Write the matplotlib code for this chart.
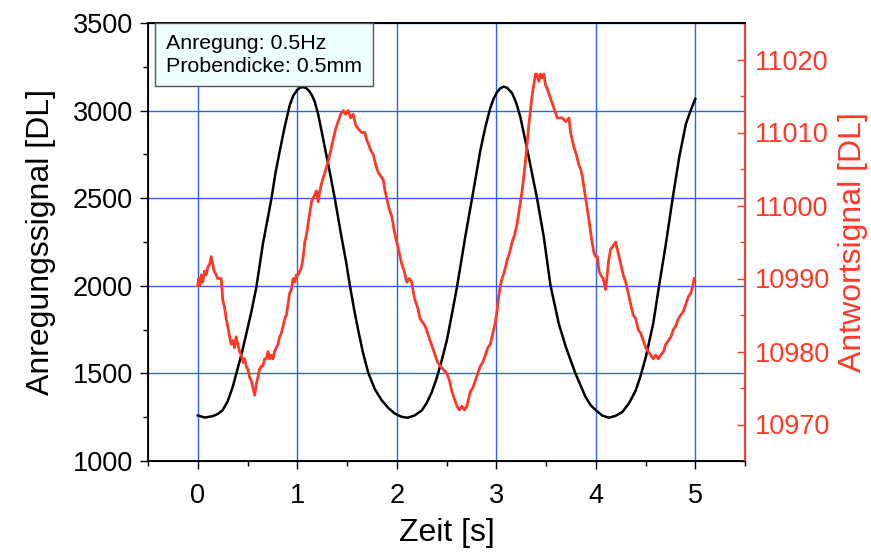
import matplotlib
matplotlib.use("Agg")
import matplotlib.pyplot as plt
from matplotlib.ticker import MultipleLocator

plt.rcParams['font.family'] = ['Liberation Sans', 'DejaVu Sans']

# Anregungssignal (schwarz)
t_anr = [0.00, 0.07, 0.15, 0.20, 0.25, 0.30, 0.35, 0.387, 0.44, 0.488,
         0.54, 0.589, 0.655, 0.70, 0.74, 0.78, 0.825, 0.875, 0.924, 0.96,
         1.00, 1.03, 1.06, 1.09, 1.12, 1.15, 1.176, 1.21, 1.277, 1.33,
         1.378, 1.445, 1.49, 1.529, 1.57, 1.613, 1.66, 1.714, 1.78, 1.849,
         1.92, 1.983, 2.05, 2.111, 2.18, 2.252, 2.30, 2.35, 2.40, 2.45,
         2.504, 2.555, 2.605, 2.645, 2.688, 2.756, 2.80, 2.84, 2.89, 2.94,
         2.975, 3.008, 3.04, 3.075, 3.11, 3.159, 3.20, 3.243, 3.327, 3.411,
         3.478, 3.545, 3.629, 3.70, 3.797, 3.898, 3.95, 4.006, 4.07, 4.133,
         4.20, 4.268, 4.335, 4.402, 4.45, 4.503, 4.577, 4.637, 4.705, 4.772,
         4.839, 4.906, 4.96, 5.00]
v_anr = [1260, 1248, 1256, 1268, 1290, 1340, 1420, 1498, 1610, 1726,
         1855, 1992, 2240, 2375, 2496, 2640, 2772, 2910, 3030, 3085,
         3118, 3131, 3134, 3128, 3112, 3085, 3050, 2980, 2791, 2640,
         2496, 2278, 2140, 2002, 1870, 1745, 1620, 1502, 1410, 1346,
         1300, 1270, 1252, 1247, 1260, 1289, 1330, 1390, 1470, 1570,
         1690, 1840, 1992, 2130, 2278, 2496, 2640, 2772, 2905, 3015,
         3070, 3105, 3127, 3137, 3130, 3100, 3045, 2962, 2734, 2496,
         2278, 2002, 1783, 1650, 1498, 1365, 1318, 1287, 1258, 1247,
         1258, 1280, 1330, 1403, 1485, 1593, 1783, 2002, 2240, 2496,
         2734, 2924, 3010, 3067]

# Antwortsignal (rot)
t_ant = [0.000, 0.010, 0.020, 0.035, 0.050, 0.068, 0.085, 0.100, 0.120, 0.135,
         0.150, 0.165, 0.185, 0.200, 0.236, 0.252, 0.270, 0.286, 0.300, 0.320,
         0.335, 0.353, 0.370, 0.385, 0.403, 0.420, 0.437, 0.455, 0.470, 0.488,
         0.505, 0.520, 0.538, 0.555, 0.572, 0.588, 0.605, 0.620, 0.639, 0.655,
         0.672, 0.690, 0.706, 0.722, 0.740, 0.756, 0.772, 0.790, 0.806, 0.823,
         0.840, 0.857, 0.875, 0.891, 0.908, 0.924, 0.941, 0.958, 0.975, 0.991,
         1.008, 1.025, 1.042, 1.060, 1.076, 1.093, 1.109, 1.126, 1.143, 1.160,
         1.176, 1.193, 1.210, 1.227, 1.244, 1.277, 1.310, 1.335, 1.361, 1.386,
         1.411, 1.436, 1.462, 1.487, 1.512, 1.537, 1.562, 1.588, 1.613, 1.646,
         1.680, 1.697, 1.714, 1.740, 1.764, 1.790, 1.815, 1.840, 1.865, 1.882,
         1.899, 1.925, 1.950, 1.975, 2.000, 2.025, 2.050, 2.075, 2.101, 2.126,
         2.151, 2.168, 2.185, 2.210, 2.235, 2.260, 2.285, 2.310, 2.336, 2.360,
         2.386, 2.411, 2.436, 2.470, 2.504, 2.530, 2.554, 2.580, 2.605, 2.630,
         2.655, 2.680, 2.705, 2.722, 2.739, 2.764, 2.789, 2.815, 2.840, 2.865,
         2.890, 2.915, 2.940, 2.965, 2.991, 3.008, 3.024, 3.041, 3.058, 3.083,
         3.109, 3.134, 3.159, 3.185, 3.210, 3.227, 3.243, 3.260, 3.276, 3.293,
         3.310, 3.327, 3.344, 3.360, 3.377, 3.394, 3.411, 3.428, 3.445, 3.462,
         3.479, 3.495, 3.512, 3.537, 3.562, 3.588, 3.613, 3.638, 3.663, 3.697,
         3.730, 3.747, 3.764, 3.780, 3.805, 3.831, 3.848, 3.865, 3.882, 3.898,
         3.915, 3.932, 3.957, 3.982, 4.000, 4.016, 4.033, 4.049, 4.075, 4.090,
         4.100, 4.115, 4.130, 4.150, 4.175, 4.200, 4.225, 4.251, 4.276, 4.301,
         4.326, 4.351, 4.376, 4.402, 4.427, 4.452, 4.478, 4.503, 4.528, 4.553,
         4.578, 4.603, 4.628, 4.654, 4.680, 4.704, 4.730, 4.755, 4.780, 4.805,
         4.830, 4.855, 4.880, 4.906, 4.930, 4.956, 4.975, 4.990]
r_ant = [10989, 10990, 10989, 10990.5, 10989.5, 10991, 10990.5, 10991.5, 10992, 10993,
         10992, 10991, 10990.5, 10990, 10990, 10987, 10986, 10984.5, 10983.5, 10982,
         10981, 10981.5, 10980.5, 10982, 10981, 10980, 10979.5, 10978.5, 10979, 10978,
         10977.5, 10976.5, 10976, 10975, 10974, 10975.5, 10976.5, 10977.5, 10978, 10978,
         10979, 10979, 10980, 10979, 10979.5, 10979, 10980, 10980.5, 10981, 10982,
         10982.5, 10983.5, 10984.5, 10985, 10986.5, 10988, 10988.5, 10990, 10989.5, 10990.5,
         10990.5, 10991, 10991.5, 10993, 10995, 10996, 10997.5, 10999, 11000.5, 11001,
         11001.5, 11002, 11000.5, 11002, 11003, 11004.5, 11006, 11007.5, 11009, 11010.5,
         11011.5, 11012.5, 11013, 11012.5, 11013, 11012, 11012.5, 11011, 11010.5, 11010,
         11010, 11009, 11008.5, 11007.5, 11007, 11005.5, 11004.5, 11004, 11003.5, 11002,
         11001, 10999.5, 10998.5, 10996.5, 10995, 10993.5, 10992, 10991, 10989.5, 10990,
         10989.5, 10988, 10987, 10986, 10984.5, 10984, 10983.5, 10982.5, 10981.5, 10980.5,
         10979.5, 10978.5, 10978, 10977.5, 10977, 10976, 10974.5, 10973.5, 10972.5, 10972,
         10972.5, 10972, 10972.5, 10973.5, 10974.5, 10975, 10976, 10977, 10978, 10978.5,
         10979.5, 10980.5, 10981, 10982.5, 10984, 10985.5, 10987.5, 10989, 10990, 10991,
         10992.5, 10993.5, 10995, 10996, 10997.5, 10999, 11000.5, 11002, 11004, 11006,
         11008.5, 11011, 11013, 11015, 11016.5, 11018, 11018, 11017, 11018, 11017.5,
         11018, 11016.5, 11016, 11015, 11014, 11013, 11012, 11012, 11012, 11011.5,
         11012, 11010, 11009, 11008, 11007, 11005.5, 11005, 11004, 11002.5, 11001,
         10999.5, 10998, 10995.5, 10993.5, 10993, 10993, 10991, 10990.5, 10990, 10989,
         10988.5, 10990.5, 10992.5, 10994, 10994.5, 10995, 10993.5, 10992, 10990.5, 10989.5,
         10988, 10986.5, 10985, 10984.5, 10983, 10982.5, 10981.5, 10980.5, 10980, 10979.5,
         10979, 10979.5, 10979, 10979.5, 10980, 10981, 10981.5, 10982, 10983, 10983.5,
         10984.5, 10985, 10985.5, 10986.5, 10987.5, 10988, 10989, 10990]

red = '#ff3826'
grid_blue = '#2b62f0'

fig = plt.figure(figsize=(8.71, 5.57), dpi=100)
ax = fig.add_axes([148 / 871, 1 - 461 / 557, (745 - 148) / 871, (461 - 23) / 557])
ax2 = ax.twinx()

ax.plot(t_anr, v_anr, color='black', lw=1.8, zorder=3)
ax2.plot(t_ant, r_ant, color=red, lw=2.0, zorder=3)

ax.set_xlim(-0.5, 5.5)
ax.set_ylim(1000, 3500)
ax2.set_ylim(10965, 11025)

ax.xaxis.set_major_locator(MultipleLocator(1))
ax.xaxis.set_minor_locator(MultipleLocator(0.5))
ax.yaxis.set_major_locator(MultipleLocator(500))
ax.yaxis.set_minor_locator(MultipleLocator(250))
ax2.yaxis.set_minor_locator(MultipleLocator(5))
ax2.set_yticks([10970, 10980, 10990, 11000, 11010, 11020])

ax.grid(True, which='major', color=grid_blue, lw=1.0)
ax.set_axisbelow(True)

ax.tick_params(axis='both', which='major', direction='out', length=6, width=1,
               labelsize=19.5, pad=5)
ax.tick_params(axis='x', which='major', pad=10)
ax.tick_params(axis='both', which='minor', direction='out', length=3.5, width=1)
ax2.tick_params(axis='y', which='major', direction='in', length=6, width=1,
                labelsize=19.5, colors=red, pad=7)
ax2.tick_params(axis='y', which='minor', direction='in', length=3.5, width=1,
                colors=red)

for s in ['left', 'bottom', 'top']:
    ax.spines[s].set_linewidth(1.3)
ax2.spines['right'].set_color(red)
ax2.spines['right'].set_linewidth(1.3)
ax2.spines['top'].set_linewidth(1.3)

ax.set_xlabel('Zeit [s]', fontsize=23, labelpad=6)
ax.set_ylabel('Anregungssignal [DL]', fontsize=23, labelpad=12)
ax2.set_ylabel('Antwortsignal [DL]', fontsize=23, color=red, labelpad=6)

ax2.text(0.030, 0.975, 'Anregung: 0.5Hz\nProbendicke: 0.5mm', transform=ax.transAxes,
         fontsize=15.4, va='top', ha='left', linespacing=1.25, zorder=10,
         bbox=dict(boxstyle='square,pad=0.5', facecolor='#effefe',
                   edgecolor='#555555', lw=1))

fig.savefig('out.png', dpi=100)
